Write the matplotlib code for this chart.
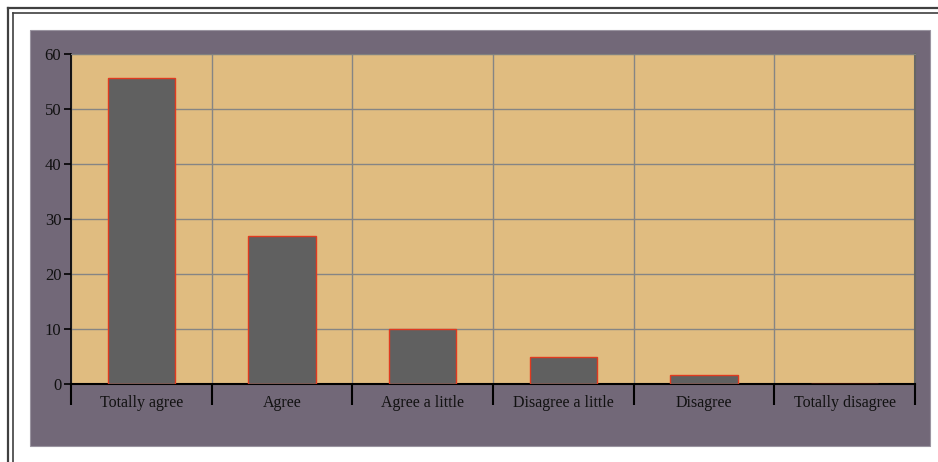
import matplotlib
matplotlib.use("Agg")
import matplotlib.pyplot as plt
from matplotlib.patches import Rectangle
from matplotlib.lines import Line2D
import numpy as np

categories = ["Totally agree", "Agree", "Agree a little",
              "Disagree a little", "Disagree", "Totally disagree"]
values = [55.6, 27.0, 10.0, 4.9, 1.6, 0.0]

W, H = 938, 462
fig = plt.figure(figsize=(W / 100, H / 100), dpi=100)
fig.patch.set_facecolor("white")

# double frame on left and top
for off, lw in [(8, 1.6), (13, 1.2)]:
    fig.add_artist(Line2D([off / W, off / W], [0, 1 - off / H],
                          color="#404040", lw=lw, transform=fig.transFigure))
    fig.add_artist(Line2D([off / W, 1], [1 - off / H, 1 - off / H],
                          color="#404040", lw=lw, transform=fig.transFigure))

# purple chart background
fig.add_artist(Rectangle((30 / W, 1 - 446 / H), 900 / W, 416 / H,
                         facecolor="#726878", edgecolor="#9a94a0", lw=0.8,
                         transform=fig.transFigure, zorder=0))

ax = fig.add_axes([71 / W, 1 - 384 / H, 844 / W, 330 / H])
ax.set_facecolor("#E0BC80")

x = np.arange(len(categories))
ax.bar(x, values, width=0.48, color="#606060", edgecolor="#E03A20",
       linewidth=1.0, zorder=3)

ax.set_xlim(-0.5, len(categories) - 0.5)
ax.set_ylim(0, 60)
ax.set_yticks(range(0, 61, 10))
ax.set_xticks(np.arange(len(categories) + 1) - 0.5)
ax.set_xticklabels([])
ax.set_xticks(x, minor=True)
ax.set_xticklabels(categories, minor=True)

ax.grid(True, which="major", color="#858585", linewidth=1.0, zorder=1)
ax.set_axisbelow(True)

ax.tick_params(axis="x", which="major", direction="out", length=15,
               width=1.5, color="black")
ax.tick_params(axis="x", which="minor", length=0, pad=8,
               labelsize=11.5, labelcolor="#111111")
ax.tick_params(axis="y", direction="out", length=5, width=1.2,
               labelsize=12, labelcolor="#111111", pad=2)

for lab in ax.get_xticklabels(minor=True) + ax.get_yticklabels():
    lab.set_family("Liberation Serif")

ax.spines["left"].set_color("black")
ax.spines["left"].set_linewidth(1.2)
ax.spines["bottom"].set_color("black")
ax.spines["bottom"].set_linewidth(1.5)
ax.spines["top"].set_color("#808080")
ax.spines["right"].set_color("#666666")
ax.spines["right"].set_linewidth(1.5)

fig.savefig("out.png", dpi=100)
